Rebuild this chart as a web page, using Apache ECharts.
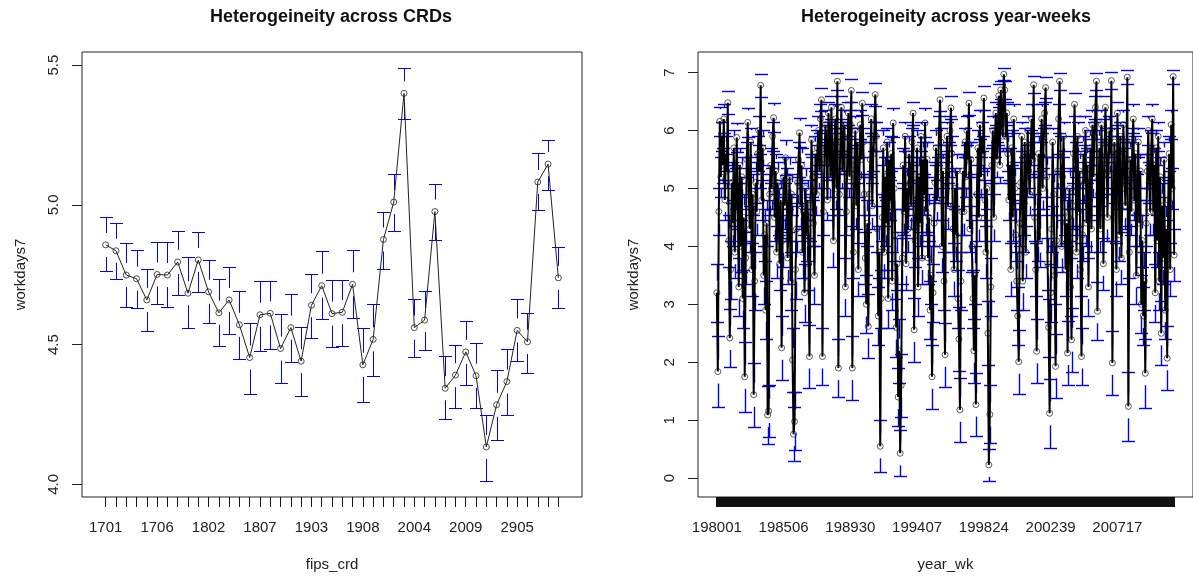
<!DOCTYPE html>
<html><head><meta charset="utf-8">
<script src="https://cdn.jsdelivr.net/npm/echarts@6/dist/echarts.min.js"></script>
<style>html,body{margin:0;padding:0;background:#fff}#c{width:1193px;height:581px}</style>
</head><body><div id="c"></div>
<script>
// ---------- Left panel: Heterogeineity across CRDs ----------
const crdLabels = ['1701','1702','1703','1704','1705','1706','1707','1708','1709',
  '1801','1802','1803','1804','1805','1806','1807','1808','1809',
  '1901','1902','1903','1904','1905','1906','1907','1908','1909',
  '2001','2002','2003','2004','2005','2006','2007','2008','2009',
  '2901','2902','2903','2904','2905','2906','2907','2908','2909'];
const crdShown = ['1701','1706','1802','1807','1903','1908','2004','2009','2905'];
const crdMean = [4.857,4.836,4.749,4.736,4.660,4.751,4.749,4.796,4.684,4.803,
  4.689,4.614,4.660,4.571,4.454,4.607,4.612,4.486,4.561,4.441,
  4.641,4.711,4.611,4.616,4.716,4.428,4.519,4.876,5.010,5.399,
  4.561,4.588,4.976,4.344,4.391,4.474,4.389,4.134,4.285,4.368,
  4.551,4.510,5.082,5.146,4.739];
const crdUpper = [4.957,4.936,4.862,4.838,4.769,4.867,4.867,4.907,4.812,4.903,
  4.803,4.734,4.779,4.693,4.579,4.729,4.729,4.610,4.681,4.564,
  4.752,4.836,4.731,4.731,4.838,4.561,4.645,4.975,5.110,5.488,
  4.664,4.693,5.073,4.458,4.499,4.586,4.505,4.250,4.409,4.485,
  4.663,4.613,5.184,5.231,4.848];
const crdLower = [4.764,4.734,4.633,4.630,4.550,4.644,4.633,4.676,4.560,4.689,
  4.579,4.496,4.538,4.449,4.325,4.479,4.485,4.362,4.438,4.317,
  4.523,4.592,4.492,4.496,4.594,4.294,4.389,4.771,4.907,5.307,
  4.455,4.482,4.874,4.235,4.275,4.354,4.275,4.014,4.160,4.249,
  4.441,4.400,4.981,5.055,4.630];
const crdYTicks = [4.0, 4.5, 5.0, 5.5];

// ---------- Right panel: Heterogeineity across year-weeks ----------
const wkTickLabels = ['198001','198506','198930','199407','199824','200239','200717'];
const wkTickIdx = [0,67,134,201,268,335,402];
const wkMean = [
 3.2,1.84,4.6,6.16,5.2,5.9,5.4,6.2,4.8,5.6,
 5.3,6.48,4.1,2.42,3.6,5.1,4.4,5.7,3.9,5.0,
 5.88,4.7,3.3,5.4,4.0,5.2,3.1,4.5,1.75,3.8,
 5.5,6.14,5.0,4.3,5.8,3.6,4.9,1.44,3.4,5.1,
 4.6,5.6,6.0,5.3,6.78,4.8,5.7,3.5,4.2,2.9,
 4.4,1.09,1.16,4.9,5.4,5.0,5.9,6.22,4.5,5.3,
 3.9,5.1,4.6,3.7,4.8,2.25,4.1,5.2,4.7,5.53,
 5.0,3.8,4.5,5.2,3.4,4.9,2.04,0.76,0.98,3.6,
 4.3,5.1,5.5,5.96,4.7,5.4,3.9,4.6,3.2,5.0,
 4.2,4.8,3.7,2.1,4.5,5.84,5.2,4.4,3.5,5.6,
 4.9,5.7,6.0,5.3,6.2,6.53,2.1,4.6,5.5,6.1,
 5.7,4.8,6.3,5.9,5.2,6.4,5.5,4.1,5.8,6.2,
 5.0,6.85,1.9,4.9,5.8,6.4,5.3,5.9,6.1,3.3,
 4.6,5.6,6.3,5.2,6.1,6.69,1.9,3.9,5.4,6.0,
 4.7,5.8,3.6,5.2,6.1,5.5,6.47,5.8,4.9,3.8,
 3.0,4.4,2.62,4.9,5.5,6.2,4.7,5.6,5.9,6.62,
 5.9,4.3,2.8,3.9,0.55,3.1,4.5,5.7,3.9,5.2,
 4.4,5.8,3.1,5.5,4.8,5.6,3.4,6.13,5.0,4.2,
 2.6,3.7,1.4,2.2,0.43,1.6,3.8,5.4,4.6,5.9,
 3.7,5.0,4.3,5.6,5.1,4.7,5.8,6.30,2.56,4.1,
 4.8,5.7,3.3,5.2,4.4,5.9,3.8,5.5,4.9,6.13,
 4.6,5.5,3.8,4.5,2.9,3.5,1.75,3.2,4.4,5.1,
 5.7,4.8,5.2,6.0,6.53,5.8,4.0,5.3,3.4,2.13,
 5.1,5.9,4.7,5.5,6.0,6.39,5.6,4.3,3.6,5.0,
 4.2,5.3,3.1,2.4,1.18,3.4,4.6,5.3,4.6,5.8,
 5.2,6.0,5.5,6.47,4.3,5.5,4.0,3.1,2.2,3.5,
 1.27,4.9,5.7,4.5,6.1,5.2,5.9,5.6,6.56,4.8,
 3.9,5.0,2.5,0.23,1.1,3.3,5.4,6.0,4.5,5.8,
 6.3,5.5,6.0,6.6,5.4,6.7,6.2,5.9,6.97,6.7,
 5.9,6.3,5.6,4.8,5.4,3.6,5.7,4.5,6.2,5.0,
 4.2,3.4,2.8,2.01,4.4,5.1,5.9,3.4,4.6,5.8,
 3.9,5.2,6.0,5.3,4.9,5.7,6.2,5.5,6.79,4.5,
 3.6,2.19,4.2,5.6,4.1,5.5,6.2,5.0,5.8,6.3,
 6.74,5.2,3.7,2.6,1.12,3.2,4.3,5.8,4.9,3.5,
 1.93,4.1,5.3,6.2,6.85,5.6,4.0,5.2,5.9,4.6,
 3.6,4.4,2.16,4.5,5.0,3.3,2.39,4.7,5.6,6.45,
 5.5,3.9,5.9,4.6,5.3,3.6,2.1,4.2,5.6,5.1,
 6.0,4.4,5.4,3.3,4.8,5.7,4.3,6.1,5.2,5.9,
 6.4,6.85,2.88,4.9,5.7,4.3,6.1,5.2,3.7,5.5,
 6.4,5.8,4.5,5.3,6.0,5.6,6.86,1.99,4.5,5.8,
 5.1,3.6,6.3,5.6,4.2,5.9,3.8,5.0,6.1,5.4,
 4.7,5.5,6.92,1.24,3.9,5.5,4.6,5.8,6.2,4.8,
 5.6,3.5,4.9,5.8,4.4,5.3,3.0,4.1,2.8,3.4,
 1.81,4.4,5.3,6.0,5.1,4.6,5.7,6.2,4.6,5.4,
 3.2,5.7,4.1,5.9,3.4,5.2,2.5,4.7,3.8,5.5,
 2.9,4.3,2.07,4.8,5.6,3.6,6.1,5.0,6.93,3.85];
const wkHalf = [
 0.5,0.62,0.4,0.25,0.35,0.25,0.3,0.25,0.35,0.3,
 0.3,0.2,0.45,0.5,0.5,0.35,0.4,0.3,0.45,0.35,
 0.25,0.4,0.5,0.3,0.45,0.35,0.5,0.4,0.6,0.45,
 0.3,0.25,0.35,0.4,0.25,0.45,0.35,0.55,0.5,0.35,
 0.4,0.3,0.25,0.3,0.2,0.35,0.3,0.5,0.45,0.5,
 0.4,0.5,0.45,0.35,0.3,0.35,0.25,0.25,0.4,0.3,
 0.45,0.35,0.4,0.45,0.35,0.55,0.45,0.35,0.4,0.3,
 0.35,0.45,0.4,0.35,0.5,0.35,0.55,0.46,0.5,0.5,
 0.4,0.35,0.3,0.25,0.4,0.3,0.45,0.4,0.5,0.35,
 0.45,0.35,0.45,0.55,0.4,0.25,0.35,0.4,0.5,0.3,
 0.35,0.3,0.25,0.3,0.25,0.2,0.5,0.4,0.3,0.25,
 0.3,0.35,0.2,0.25,0.35,0.2,0.3,0.45,0.25,0.25,
 0.35,0.15,0.5,0.35,0.25,0.2,0.3,0.25,0.25,0.5,
 0.4,0.3,0.2,0.35,0.25,0.2,0.55,0.45,0.3,0.25,
 0.4,0.25,0.45,0.35,0.25,0.3,0.2,0.25,0.35,0.45,
 0.5,0.4,0.55,0.35,0.3,0.25,0.4,0.3,0.25,0.2,
 0.25,0.4,0.5,0.45,0.45,0.5,0.4,0.3,0.45,0.35,
 0.4,0.25,0.5,0.3,0.35,0.3,0.5,0.25,0.35,0.45,
 0.5,0.45,0.5,0.55,0.4,0.55,0.45,0.3,0.4,0.25,
 0.45,0.35,0.4,0.3,0.35,0.4,0.25,0.2,0.55,0.45,
 0.35,0.3,0.5,0.35,0.4,0.25,0.45,0.3,0.35,0.25,
 0.4,0.3,0.45,0.4,0.5,0.5,0.55,0.5,0.4,0.35,
 0.3,0.35,0.35,0.25,0.2,0.25,0.45,0.3,0.5,0.55,
 0.35,0.25,0.4,0.3,0.25,0.2,0.3,0.4,0.45,0.35,
 0.45,0.3,0.5,0.55,0.55,0.5,0.4,0.3,0.4,0.25,
 0.35,0.25,0.3,0.2,0.4,0.3,0.45,0.5,0.55,0.5,
 0.55,0.35,0.3,0.4,0.25,0.35,0.25,0.3,0.2,0.35,
 0.45,0.35,0.55,0.27,0.5,0.5,0.3,0.25,0.4,0.25,
 0.2,0.3,0.25,0.2,0.3,0.15,0.25,0.25,0.1,0.15,
 0.25,0.2,0.3,0.35,0.3,0.45,0.3,0.4,0.25,0.35,
 0.45,0.5,0.5,0.55,0.4,0.35,0.25,0.5,0.4,0.25,
 0.45,0.35,0.25,0.3,0.35,0.3,0.25,0.3,0.15,0.4,
 0.45,0.55,0.45,0.3,0.45,0.3,0.25,0.35,0.25,0.2,
 0.18,0.35,0.45,0.5,0.6,0.5,0.4,0.25,0.35,0.5,
 0.55,0.45,0.3,0.25,0.15,0.3,0.45,0.35,0.25,0.4,
 0.45,0.4,0.55,0.4,0.35,0.5,0.55,0.4,0.3,0.2,
 0.3,0.45,0.25,0.4,0.3,0.45,0.5,0.45,0.3,0.35,
 0.25,0.4,0.3,0.5,0.35,0.3,0.4,0.25,0.35,0.25,
 0.2,0.15,0.5,0.35,0.3,0.4,0.25,0.35,0.45,0.3,
 0.2,0.25,0.4,0.3,0.25,0.3,0.15,0.55,0.4,0.25,
 0.35,0.45,0.2,0.3,0.45,0.25,0.45,0.35,0.25,0.3,
 0.4,0.3,0.12,0.6,0.45,0.3,0.4,0.25,0.25,0.35,
 0.3,0.5,0.35,0.25,0.4,0.3,0.5,0.45,0.5,0.5,
 0.6,0.4,0.3,0.25,0.35,0.4,0.3,0.25,0.4,0.3,
 0.5,0.3,0.45,0.25,0.5,0.35,0.55,0.4,0.45,0.3,
 0.5,0.4,0.55,0.35,0.3,0.45,0.25,0.35,0.12,0.45];
const wkYTicks = [0,1,2,3,4,5,6,7];

// ---------- helpers ----------
const FONT = "'Liberation Sans', Arial, sans-serif";
const TXT = '#222';
function ext4(lo, hi) { const a = Math.min(...lo), b = Math.max(...hi), d = (b - a) * 0.04; return [a - d, b + d]; }
function xExt(n) { return [-0.5 - 0.04 * n, n - 1 + 0.5 + 0.04 * n]; }

const crdY = ext4(crdLower, crdUpper), crdX = xExt(crdMean.length);
const wkLower = wkMean.map((m, i) => m - wkHalf[i]);
const wkUpper = wkMean.map((m, i) => m + wkHalf[i]);
const wkY = ext4(wkLower, wkUpper), wkX = xExt(wkMean.length);

const crdErr = crdMean.map((m, i) => [i, m, crdLower[i], crdUpper[i]]);
const wkErr = wkMean.map((m, i) => [i, m, wkLower[i], wkUpper[i]]);
const crdPts = crdMean.map((m, i) => [i, m]);
const wkPts = wkMean.map((m, i) => [i, m]);

const crisp = v => Math.round(v) + 0.5;
function makeErrRender(lw) {
  return function (params, api) {
    const x = api.value(0), m = api.value(1), lo = api.value(2), hi = api.value(3);
    const pm = api.coord([x, m]), pl = api.coord([x, lo]), ph = api.coord([x, hi]);
    const cx = crisp(pm[0]), yt = crisp(ph[1]), yb = crisp(pl[1]);
    const hw = 6.5, gap = 12;
    const style = { stroke: '#0000ff', lineWidth: lw, fill: null };
    const ch = [
      { type: 'line', shape: { x1: cx - hw, y1: yt, x2: cx + hw, y2: yt }, style },
      { type: 'line', shape: { x1: cx - hw, y1: yb, x2: cx + hw, y2: yb }, style }
    ];
    if (pm[1] - gap > ph[1]) ch.push({ type: 'line', shape: { x1: cx, y1: yt, x2: cx, y2: pm[1] - gap }, style });
    if (pm[1] + gap < pl[1]) ch.push({ type: 'line', shape: { x1: cx, y1: pm[1] + gap, x2: cx, y2: yb }, style });
    return { type: 'group', children: ch };
  };
}

const baseLabel = { color: TXT, fontFamily: FONT, fontSize: 15 };
function xAxisCfg(gi, ext, tickVals, labelVals, fmt, name, tickW) {
  return {
    gridIndex: gi, type: 'value', min: ext[0], max: ext[1],
    axisLine: { show: false, onZero: false }, splitLine: { show: false },
    axisTick: { show: true, length: 10, customValues: tickVals, lineStyle: { color: '#111', width: tickW } },
    axisLabel: Object.assign({ customValues: labelVals, formatter: fmt, margin: 23 }, baseLabel),
    name: name, nameLocation: 'middle', nameGap: 60,
    nameTextStyle: { color: TXT, fontFamily: FONT, fontSize: 15 }
  };
}
function yAxisCfg(gi, ext, vals, fmt, gap) {
  return {
    gridIndex: gi, type: 'value', min: ext[0], max: ext[1],
    axisLine: { show: false, onZero: false }, splitLine: { show: false },
    axisTick: { show: true, length: 10, customValues: vals, lineStyle: { color: '#222' } },
    axisLabel: Object.assign({ customValues: vals, formatter: fmt, rotate: 90, margin: 21 }, baseLabel),
    name: 'workdays7', nameLocation: 'middle', nameGap: gap,
    nameTextStyle: { color: TXT, fontFamily: FONT, fontSize: 15 }
  };
}

const crdTickVals = crdLabels.map((_, i) => i);
const crdLabelVals = crdShown.map(s => crdLabels.indexOf(s));
const wkTickVals = wkMean.map((_, i) => i);

const chart = echarts.init(document.getElementById('c'), null, { renderer: 'canvas' });
chart.setOption({
  animation: false,
  backgroundColor: '#fff',
  grid: [
    { left: 82, top: 52, width: 500, height: 445, show: true, borderColor: '#222', borderWidth: 1, backgroundColor: 'transparent' },
    { left: 698, top: 52, width: 501, height: 445, show: true, borderColor: '#222', borderWidth: 1, backgroundColor: 'transparent' }
  ],
  graphic: [
    { type: 'text', x: 331, y: 17, style: { text: 'Heterogeineity across CRDs', fill: '#111', font: "bold 18px 'Liberation Sans', Arial, sans-serif", textAlign: 'center', textVerticalAlign: 'middle' } },
    { type: 'text', x: 946, y: 17, style: { text: 'Heterogeineity across year-weeks', fill: '#111', font: "bold 18px 'Liberation Sans', Arial, sans-serif", textAlign: 'center', textVerticalAlign: 'middle' } }
  ],
  xAxis: [
    xAxisCfg(0, crdX, crdTickVals, crdLabelVals, v => crdLabels[Math.round(v)], 'fips_crd', 1),
    xAxisCfg(1, wkX, wkTickVals, wkTickIdx, v => wkTickLabels[wkTickIdx.indexOf(Math.round(v))], 'year_wk', 2)
  ],
  yAxis: [
    yAxisCfg(0, crdY, crdYTicks, v => Number(v).toFixed(1), 54),
    yAxisCfg(1, wkY, wkYTicks, v => String(Math.round(v)), 57)
  ],
  series: [
    { type: 'custom', xAxisIndex: 0, yAxisIndex: 0, renderItem: makeErrRender(1), data: crdErr, encode: { x: 0, y: [1, 2, 3] }, clip: true, z: 2, silent: true },
    { type: 'scatter', xAxisIndex: 0, yAxisIndex: 0, data: crdPts, symbol: 'circle', symbolSize: 6,
      itemStyle: { color: 'rgba(0,0,0,0)', borderColor: '#222', borderWidth: 1 }, z: 3, silent: true },
    { type: 'line', xAxisIndex: 0, yAxisIndex: 0, data: crdPts, showSymbol: false, symbol: 'none',
      lineStyle: { color: '#222', width: 1 }, z: 4, silent: true },

    { type: 'custom', xAxisIndex: 1, yAxisIndex: 1, renderItem: makeErrRender(1.4), data: wkErr, encode: { x: 0, y: [1, 2, 3] }, clip: true, z: 2, silent: true },
    { type: 'scatter', xAxisIndex: 1, yAxisIndex: 1, data: wkPts, symbol: 'circle', symbolSize: 6,
      itemStyle: { color: 'rgba(0,0,0,0)', borderColor: '#333', borderWidth: 1 }, z: 3, silent: true },
    { type: 'line', xAxisIndex: 1, yAxisIndex: 1, data: wkPts, showSymbol: false, symbol: 'none',
      lineStyle: { color: '#000', width: 2 }, z: 4, silent: true }
  ]
});
</script>
</body></html>
